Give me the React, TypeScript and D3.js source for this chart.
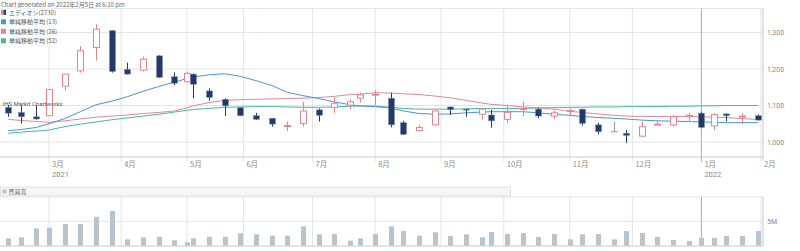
import React from "react";
import * as d3 from "d3";

// ---- data ----
const weekStarts = [
  "2021-02-08","2021-02-15","2021-02-22","2021-03-01","2021-03-08","2021-03-15","2021-03-22","2021-03-29",
  "2021-04-05","2021-04-12","2021-04-19","2021-04-26","2021-05-03","2021-05-10","2021-05-17","2021-05-24",
  "2021-05-31","2021-06-07","2021-06-14","2021-06-21","2021-06-28","2021-07-05","2021-07-12","2021-07-19",
  "2021-07-26","2021-08-02","2021-08-09","2021-08-16","2021-08-23","2021-08-30","2021-09-06","2021-09-13",
  "2021-09-20","2021-09-27","2021-10-04","2021-10-11","2021-10-18","2021-10-25","2021-11-01","2021-11-08",
  "2021-11-15","2021-11-22","2021-11-29","2021-12-06","2021-12-13","2021-12-20","2021-12-27","2022-01-03",
  "2022-01-10","2022-01-17","2022-01-24","2022-01-31"
];
const opens = [1095,1081,1069,1072,1153,1195,1259,1305,1199,1197,1236,1179,1165,1186,1140,1117,1094,1072,1065,1044,1051,1088,1095,1101,1120,1130,1120,1053,1031,1047,1096,1090,1076,1074,1062,1091,1090,1071,1084,1090,1047,1028,1024,1016,1046,1047,1071,1079,1044,1077,1069,1072];
const highs = [1101,1099,1101,1145,1187,1263,1323,1306,1217,1234,1238,1191,1193,1188,1147,1120,1095,1080,1066,1056,1110,1092,1122,1117,1135,1142,1135,1058,1048,1086,1097,1091,1091,1088,1098,1110,1094,1086,1092,1091,1053,1056,1033,1056,1060,1074,1079,1083,1079,1078,1079,1076];
const lows = [1069,1051,1061,1071,1141,1190,1223,1190,1185,1193,1176,1156,1164,1120,1113,1071,1071,1060,1042,1030,1042,1056,1080,1090,1108,1101,1040,1020,1029,1045,1074,1069,1060,1039,1051,1070,1065,1062,1074,1045,1021,1028,998,1015,1045,1042,1056,1038,1033,1056,1049,1059];
const closes = [1079,1069,1063,1144,1186,1250,1309,1193,1186,1227,1177,1161,1188,1158,1122,1099,1072,1062,1049,1045,1085,1073,1105,1110,1129,1131,1047,1021,1040,1085,1089,1088,1090,1058,1081,1092,1071,1080,1086,1051,1028,1028,1018,1042,1049,1069,1073,1040,1075,1072,1071,1060];
const volumesM = [1.52,1.72,3.56,3.69,4.45,4.45,5.94,7.11,1.31,1.72,1.84,1.1,0.7,1.52,1.84,1.84,2.54,2.33,2.05,2.05,3.97,2.33,2.4,1.03,1.52,2.4,3.97,3.0,2.05,2.74,1.99,2.33,1.72,2.81,2.4,2.6,1.78,2.4,1.31,2.33,2.4,1.31,3.0,2.6,1.78,1.17,0.96,1.58,1.58,1.99,1.99,3.0];
const ma13 = [1031,1034,1040,1050,1064,1083,1102,1112,1124,1139,1152,1164,1174,1178,1184,1187,1180,1168,1155,1136,1127,1119,1110,1102,1099,1097,1093,1085,1078,1076,1077,1080,1082,1083,1083,1083,1080,1076,1073,1070,1067,1065,1063,1060,1058,1057,1056,1055,1054,1053,1053,1053];
const ma26 = [1062,1059,1056,1054,1058,1063,1068,1071,1074,1078,1081,1085,1094,1099,1108,1114,1116,1117,1118,1119,1120,1122,1125,1130,1131,1135,1134,1132,1130,1126,1121,1114,1107,1103,1100,1096,1094,1090,1084,1081,1077,1073,1071,1070,1070,1070,1070,1069,1068,1067,1064,1062];
const ma52 = [1024,1027,1030,1033,1042,1049,1055,1061,1066,1071,1076,1082,1087,1089,1092,1095,1096,1097,1097,1096,1095,1095,1096,1098,1099,1098,1095,1092,1090,1090,1090,1091,1092,1092,1092,1092,1093,1094,1095,1095,1096,1096,1097,1097,1097,1098,1098,1099,1099,1100,1100,1100];
const marketHolidays = ["2021-02-11","2021-02-23","2021-04-29","2021-05-03","2021-05-04","2021-05-05","2021-07-22","2021-07-23","2021-08-09","2021-09-20","2021-09-23","2021-11-03","2021-11-23","2021-12-31","2022-01-03","2022-01-10"];
const monthStarts = ["2021-03-01","2021-04-01","2021-05-01","2021-06-01","2021-07-01","2021-08-01","2021-09-01","2021-10-01","2021-11-01","2021-12-01","2022-01-01","2022-02-01"];
const monthLabels = ["3月","4月","5月","6月","7月","8月","9月","10月","11月","12月","1月","2月"];
const yearLabels = [{ at: "2021-03-01", text: "2021" }, { at: "2022-01-01", text: "2022" }];
const priceTicks = [1000, 1100, 1200, 1300];
const volumeTicks = [5];
const legendLabels = ["エディオン(2730)", "単純移動平均 (13)", "単純移動平均 (26)", "単純移動平均 (52)"];
const titleText = "Chart generated on 2022年2月5日 at 6:10 pm";
const watermark = "IHS Markit Chartworks";
const volumeTitle = "売買高";

// ---- trading-day axis ----
const parse = d3.timeParse("%Y-%m-%d");
const holidaySet = new Set(marketHolidays);
const fmtDay = d3.timeFormat("%Y-%m-%d");
const tradingDays = d3.timeDay
  .range(parse("2021-01-25")!, parse("2022-03-01")!)
  .filter((d) => d.getDay() !== 0 && d.getDay() !== 6 && !holidaySet.has(fmtDay(d)))
  .map((d) => +d);
const tIdx = (s: string) => d3.bisectLeft(tradingDays, +parse(s)!);

const W = 800, H = 251;
const plotRight = 763;
const C = {
  up: "#e8828d",
  down: "#22396a",
  flat: "#9a9a9a",
  ma13: "#4796d1",
  ma26: "#e38797",
  ma52: "#48b6a3",
  grid: "#e4e4e4",
  axis: "#c9c9c9",
  text: "#8a8a8a",
  vol: "#b5c4ce",
};
const fontLat = "Roboto, 'Noto Sans CJK JP', sans-serif";
const fontJP = "'Noto Sans CJK JP', Roboto, sans-serif";

export default function App() {
  const x = d3.scaleLinear().domain([tIdx("2021-03-01"), tIdx("2022-02-01")]).range([49, 761]);
  const y = d3.scaleLinear().domain([1000, 1300]).range([142, 32.5]);
  const yv = d3.scaleLinear().domain([0, 10]).range([245.7, 196.9]);
  const xs = weekStarts.map((d) => x(tIdx(d)));
  const monthX = monthStarts.map((d) => x(tIdx(d)));
  const janX = x(tIdx("2022-01-01"));

  const lineGen = (vals: number[]) =>
    d3.line<number>().x((_, i) => xs[i]).y((v) => y(v))(vals) || "";

  const bodyW = 6;
  return (
    <div>
      <style>{`body{margin:0}`}</style>
      <svg width={W} height={H} style={{ display: "block", background: "#fff" }}>
        {/* title */}
        <text x={1} y={6.5} fontSize={6} fill="#666" fontFamily={fontJP}>{titleText}</text>

        {/* price grid */}
        <line x1={0} x2={plotRight} y1={8.5} y2={8.5} stroke={C.grid} />
        {priceTicks.map((t) => (
          <line key={t} x1={0} x2={plotRight} y1={y(t)} y2={y(t)} stroke={C.grid} />
        ))}
        {monthX.map((mx, i) => (
          <line key={i} x1={mx} x2={mx} y1={8.5} y2={162} stroke={C.grid} />
        ))}
        <line x1={janX} x2={janX} y1={8.5} y2={162} stroke="#b0b0b0" />
        <line x1={0} x2={plotRight} y1={157} y2={157} stroke={C.axis} />
        <line x1={plotRight} x2={plotRight} y1={8.5} y2={160} stroke={C.axis} />

        {/* right axis labels */}
        {priceTicks.map((t) => (
          <text key={t} x={767} y={y(t) + 2.5} fontSize={7} fill={C.text} fontFamily={fontLat}>
            {d3.format(",")(t)}
          </text>
        ))}
        {/* month labels */}
        {monthX.map((mx, i) => (
          <text key={i} x={mx + 3} y={167} fontSize={7.5} fill={C.text} fontFamily={fontJP}>
            {monthLabels[i]}
          </text>
        ))}
        {yearLabels.map((yl) => (
          <text key={yl.text} x={x(tIdx(yl.at)) + 3} y={176.5} fontSize={7.5} fill={C.text} fontFamily={fontLat}>
            {yl.text}
          </text>
        ))}

        {/* moving averages */}
        <path d={lineGen(ma52)} fill="none" stroke={C.ma52} strokeWidth={1} />
        <path d={lineGen(ma26)} fill="none" stroke={C.ma26} strokeWidth={1} />
        <path d={lineGen(ma13)} fill="none" stroke={C.ma13} strokeWidth={1} />

        {/* candles */}
        {weekStarts.map((d, i) => {
          const o = opens[i], c = closes[i], h = highs[i], l = lows[i];
          const up = c > o, flat = c === o;
          const col = flat ? C.flat : up ? C.up : C.down;
          const cx = Math.round(xs[i]) + 0.5;
          const top = y(Math.max(o, c)), bot = y(Math.min(o, c));
          const bh = Math.max(1, bot - top);
          return (
            <g key={d}>
              <line x1={cx} x2={cx} y1={y(h)} y2={y(l)} stroke={col} strokeWidth={1} />
              {flat ? (
                <line x1={cx - 3.5} x2={cx + 3.5} y1={top} y2={top} stroke={col} strokeWidth={1} />
              ) : up ? (
                <rect x={cx - bodyW / 2} y={top} width={bodyW} height={bh} fill="#fff" stroke={col} strokeWidth={1} />
              ) : (
                <rect x={cx - bodyW / 2} y={top} width={bodyW} height={bh} fill={col} stroke="#7d8db0" strokeWidth={0.5} />
              )}
            </g>
          );
        })}

        {/* legend */}
        <rect x={0} y={8.5} width={51} height={37} fill="#fff" fillOpacity={0.95} />
        {legendLabels.map((lab, i) => {
          const ly = 12.3 + i * 9.5;
          return (
            <g key={lab}>
              {i === 0 ? (
                <g>
                  <rect x={1} y={ly - 2.5} width={2.5} height={5} fill={C.up} />
                  <rect x={3.5} y={ly - 2.5} width={2.5} height={5} fill={C.down} />
                </g>
              ) : (
                <rect x={1} y={ly - 2.5} width={5} height={5} fill={[C.ma13, C.ma26, C.ma52][i - 1]} />
              )}
              <text x={9} y={ly + 2.2} fontSize={6} fill="#555" fontFamily={fontJP}>{lab}</text>
            </g>
          );
        })}

        <text x={2.5} y={105.5} fontSize={6} fill="#555" fontFamily={fontLat}>{watermark}</text>

        {/* volume panel */}
        <rect x={0.5} y={187} width={510} height={9} fill="#f6f6f6" stroke="#dcdcdc" strokeWidth={0.8} />
        <rect x={2.5} y={189.5} width={4} height={4} fill={C.vol} />
        <text x={8.5} y={194} fontSize={6} fill="#666" fontFamily={fontJP}>{volumeTitle}</text>
        <line x1={0} x2={plotRight} y1={196.9} y2={196.9} stroke={C.grid} />
        {volumeTicks.map((t) => (
          <line key={t} x1={0} x2={plotRight} y1={yv(t)} y2={yv(t)} stroke={C.grid} />
        ))}
        {monthX.map((mx, i) => (
          <line key={i} x1={mx} x2={mx} y1={196.9} y2={245.7} stroke={C.grid} />
        ))}
        <line x1={janX} x2={janX} y1={196.9} y2={245.7} stroke="#b0b0b0" />
        {volumesM.map((v, i) => (
          <rect key={i} x={Math.round(xs[i]) - 2} y={yv(v)} width={5} height={yv(0) - yv(v)} fill={C.vol} />
        ))}
        <line x1={0} x2={plotRight} y1={246} y2={246} stroke={C.axis} strokeWidth={1.2} />
        <line x1={plotRight} x2={plotRight} y1={196.9} y2={246} stroke={C.axis} />
        {volumeTicks.map((t) => (
          <text key={t} x={767} y={yv(t) + 2.5} fontSize={7} fill={C.text} fontFamily={fontLat}>{t}M</text>
        ))}
      </svg>
    </div>
  );
}
